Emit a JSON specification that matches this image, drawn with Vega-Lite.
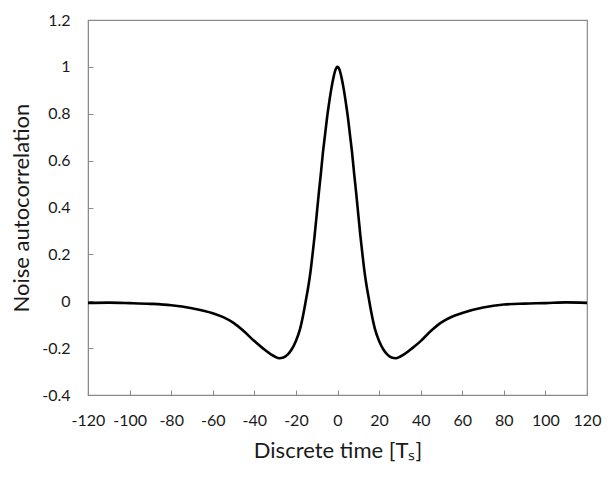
{
  "$schema": "https://vega.github.io/schema/vega-lite/v6.json",
  "autosize": "none",
  "width": 499,
  "height": 375,
  "padding": {"left": 88, "top": 20, "right": 25, "bottom": 84},
  "background": "white",
  "config": {
    "font": "Lato",
    "view": {"stroke": "#8a8a8a", "strokeWidth": 1.2},
    "axis": {
      "grid": false,
      "domainColor": "#8a8a8a",
      "tickColor": "#8a8a8a",
      "labelFont": "Lato",
      "titleFont": "Lato",
      "labelColor": "#1a1a1a",
      "titleColor": "#1a1a1a",
      "labelFontSize": 16,
      "titleFontSize": 22,
      "titleFontWeight": "normal",
      "labelOverlap": false,
      "labelFlush": false
    }
  },
  "data": {
    "values": [
      {"t": -120, "r": -0.007}, {"t": -110, "r": -0.006}, {"t": -100, "r": -0.008},
      {"t": -90, "r": -0.011}, {"t": -80, "r": -0.017}, {"t": -70, "r": -0.03},
      {"t": -60, "r": -0.051}, {"t": -55, "r": -0.068}, {"t": -50, "r": -0.092},
      {"t": -45, "r": -0.128}, {"t": -40, "r": -0.17}, {"t": -36, "r": -0.2},
      {"t": -32, "r": -0.227}, {"t": -30, "r": -0.237}, {"t": -28, "r": -0.243},
      {"t": -26, "r": -0.24}, {"t": -24, "r": -0.228}, {"t": -22, "r": -0.205},
      {"t": -20, "r": -0.17}, {"t": -18, "r": -0.118}, {"t": -16, "r": -0.035},
      {"t": -15, "r": 0.015}, {"t": -14, "r": 0.065}, {"t": -13, "r": 0.125},
      {"t": -12, "r": 0.2}, {"t": -11, "r": 0.28}, {"t": -10, "r": 0.37},
      {"t": -9, "r": 0.46}, {"t": -8, "r": 0.545}, {"t": -7, "r": 0.635},
      {"t": -6, "r": 0.71}, {"t": -5, "r": 0.785}, {"t": -4, "r": 0.848},
      {"t": -3, "r": 0.905}, {"t": -2, "r": 0.952}, {"t": -1, "r": 0.987},
      {"t": 0, "r": 1.0},
      {"t": 1, "r": 0.987}, {"t": 2, "r": 0.952}, {"t": 3, "r": 0.905},
      {"t": 4, "r": 0.848}, {"t": 5, "r": 0.785}, {"t": 6, "r": 0.71},
      {"t": 7, "r": 0.635}, {"t": 8, "r": 0.545}, {"t": 9, "r": 0.46},
      {"t": 10, "r": 0.37}, {"t": 11, "r": 0.28}, {"t": 12, "r": 0.2},
      {"t": 13, "r": 0.125}, {"t": 14, "r": 0.065}, {"t": 15, "r": 0.015},
      {"t": 16, "r": -0.035}, {"t": 18, "r": -0.118}, {"t": 20, "r": -0.17},
      {"t": 22, "r": -0.205}, {"t": 24, "r": -0.228}, {"t": 26, "r": -0.24},
      {"t": 28, "r": -0.243}, {"t": 30, "r": -0.237}, {"t": 32, "r": -0.227},
      {"t": 36, "r": -0.2}, {"t": 40, "r": -0.17}, {"t": 45, "r": -0.126},
      {"t": 50, "r": -0.09}, {"t": 55, "r": -0.066}, {"t": 60, "r": -0.05},
      {"t": 70, "r": -0.027}, {"t": 80, "r": -0.014}, {"t": 90, "r": -0.01},
      {"t": 100, "r": -0.008}, {"t": 110, "r": -0.005}, {"t": 120, "r": -0.007}
    ]
  },
  "mark": {"type": "line", "color": "black", "strokeWidth": 2.6, "interpolate": "monotone", "clip": true},
  "encoding": {
    "x": {
      "field": "t",
      "type": "quantitative",
      "scale": {"domain": [-120, 120], "nice": false, "zero": false},
      "axis": {
        "values": [-120, -100, -80, -60, -40, -20, 0, 20, 40, 60, 80, 100, 120],
        "labelExpr": "'' + datum.value",
        "tickSize": -5,
        "labelPadding": 22,
        "title": "Discrete time [Tₛ]",
        "titlePadding": 12
      }
    },
    "y": {
      "field": "r",
      "type": "quantitative",
      "scale": {"domain": [-0.4, 1.2], "nice": false, "zero": false},
      "axis": {
        "values": [-0.4, -0.2, 0, 0.2, 0.4, 0.6, 0.8, 1, 1.2],
        "labelExpr": "'' + datum.value",
        "tickSize": -5,
        "labelPadding": 23,
        "title": "Noise autocorrelation",
        "titlePadding": 8
      }
    }
  }
}
